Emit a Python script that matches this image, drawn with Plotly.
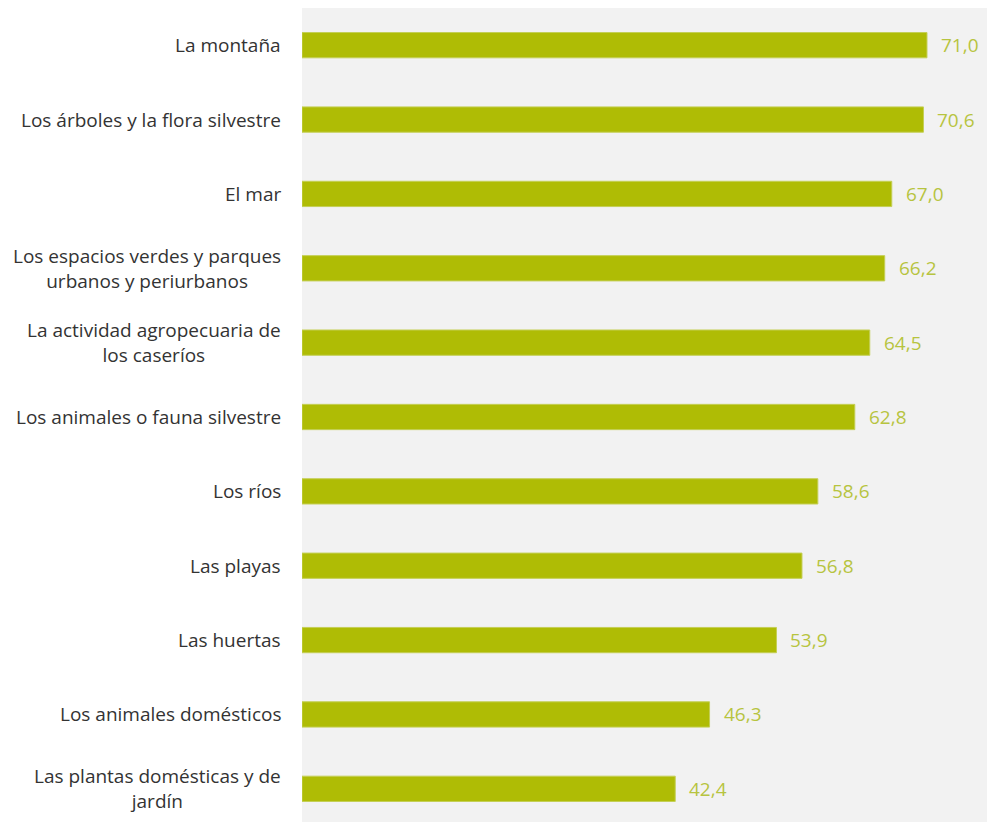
import plotly.graph_objects as go

categories = [
    "La montaña",
    "Los árboles y la flora silvestre",
    "El mar",
    "Los espacios verdes y parques<br>urbanos y periurbanos",
    "La actividad agropecuaria de<br>los caseríos",
    "Los animales o fauna silvestre",
    "Los ríos",
    "Las playas",
    "Las huertas",
    "Los animales domésticos",
    "Las plantas domésticas y de<br>jardín",
]
values = [71.0, 70.6, 67.0, 66.2, 64.5, 62.8, 58.6, 56.8, 53.9, 46.3, 42.4]

ids = list(range(len(categories)))
FONT = "Open Sans"

fig = go.Figure(go.Bar(
    x=values, y=ids, orientation="h",
    marker=dict(color="#afbc05", line=dict(color="#c4cf55", width=1)),
    width=0.34,
    hoverinfo="skip",
))

annotations = []
for i, (c, v) in enumerate(zip(categories, values)):
    annotations.append(dict(
        x=v, y=i, xref="x", yref="y", text=f"{v:.1f}".replace(".", ","),
        showarrow=False, xanchor="left", xshift=12,
        font=dict(family=FONT, size=19, color="#b7c43f"),
    ))
    annotations.append(dict(
        x=0, y=i, xref="paper", yref="y", text=c,
        showarrow=False, xanchor="right", align="center", xshift=-19,
        font=dict(family=FONT, size=19, color="#333333"),
    ))

fig.update_layout(
    width=995, height=818,
    margin=dict(l=294, r=10, t=0, b=0),
    paper_bgcolor="white",
    plot_bgcolor="#f2f2f2",
    showlegend=False,
    annotations=annotations,
    xaxis=dict(range=[0, 78.5], showgrid=False, zeroline=False,
               showticklabels=False, ticks=""),
    yaxis=dict(range=[len(categories) - 0.5, -0.5], showgrid=False,
               zeroline=False, showticklabels=False, ticks=""),
)

fig.write_html("out.html")
